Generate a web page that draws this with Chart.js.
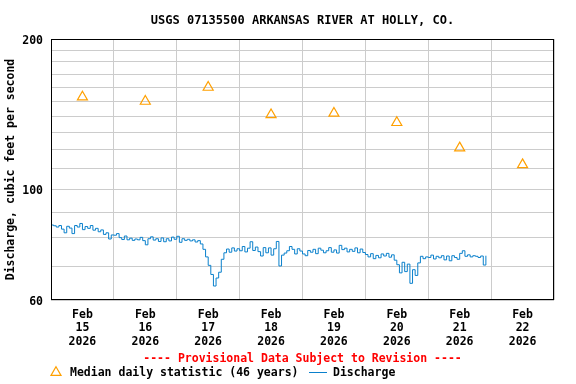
<!DOCTYPE html>
<html>
<head>
<meta charset="utf-8">
<script src="https://cdn.jsdelivr.net/npm/chart.js@4"></script>
<style>
  html, body { margin: 0; padding: 0; background: #fff; }
  #wrap { width: 576px; height: 384px; }
</style>
</head>
<body>
<div id="wrap"><canvas id="hydro" width="576" height="384"></canvas></div>
<script>
'use strict';

/* ── Data ──────────────────────────────────────────────────── */
const TITLE = 'USGS 07135500 ARKANSAS RIVER AT HOLLY, CO.';

// x axis: hours since Feb 15 00:00; gridlines at midnight, labels at noon
const dayLabels = [
  ['Feb', '15', '2026'], ['Feb', '16', '2026'], ['Feb', '17', '2026'], ['Feb', '18', '2026'],
  ['Feb', '19', '2026'], ['Feb', '20', '2026'], ['Feb', '21', '2026'], ['Feb', '22', '2026'],
];

// y axis (log): gridlines and the few values that get a label
const yGridValues  = [60, 70, 80, 90, 100, 110, 120, 130, 140, 150, 160, 170, 180, 190, 200];
const yLabelValues = [60, 100, 200];

// Median daily statistic (46 years), one per day, plotted at noon
const medianCfs = [153, 150, 160, 141, 142, 136, 121, 112];

// Discharge, hourly readings (cfs)
const feb15 = [84.8, 84.5, 84.0, 84.6, 83.2, 81.8, 84.3, 83.6, 81.5, 84.6, 84.0, 85.4,
               83.0, 84.2, 83.5, 84.6, 82.8, 83.5, 82.2, 82.9, 81.2, 81.8, 79.5, 81.0];
const feb16 = [80.9, 81.5, 80.0, 79.3, 80.6, 79.2, 79.8, 79.0, 79.5, 79.2, 80.1, 78.9,
               77.4, 79.6, 80.3, 79.1, 79.6, 78.6, 79.9, 78.5, 79.6, 78.8, 80.2, 79.4];
const feb17 = [80.5, 78.3, 79.6, 79.0, 79.4, 78.8, 79.2, 78.4, 78.9, 77.7, 75.8, 73.2,
               70.4, 67.5, 64.0, 66.4, 68.2, 72.4, 74.6, 75.9, 74.8, 76.3, 75.2, 76.0];
const feb18 = [75.3, 76.8, 74.9, 76.2, 78.5, 75.4, 76.6, 75.0, 73.5, 76.4, 74.6, 76.3,
               73.8, 76.0, 78.6, 70.2, 73.8, 74.5, 75.3, 76.8, 75.8, 74.2, 76.0, 75.2];
const feb19 = [74.2, 73.6, 75.4, 74.8, 75.8, 74.3, 76.2, 75.5, 74.6, 75.3, 76.4, 74.8,
               75.6, 74.5, 77.2, 75.7, 76.2, 74.9, 75.8, 75.1, 76.3, 74.6, 75.9, 74.7];
const feb20 = [74.0, 73.2, 74.3, 72.6, 73.7, 72.9, 74.2, 73.5, 74.4, 73.1, 73.9, 72.1,
               70.6, 68.0, 71.4, 68.4, 70.8, 64.8, 69.0, 67.2, 71.2, 73.4, 72.6, 73.2];
const feb21 = [73.0, 73.8, 72.5, 73.4, 72.9, 73.6, 72.2, 73.5, 71.9, 73.6, 73.0, 72.4,
               74.4, 75.3, 73.4, 73.9, 73.2, 73.6, 73.4, 73.0, 73.5, 70.5, 73.6];

const dischargeCfs = [].concat(feb15, feb16, feb17, feb18, feb19, feb20, feb21);

/* ── Styling ───────────────────────────────────────────────── */
const MONO   = '"DejaVu Sans Mono", "Liberation Mono", monospace';
const ORANGE = '#ffa000';
const BLUE   = '#0a80cc';
const GRID   = '#cccccc';

Chart.defaults.font.family = MONO;
Chart.defaults.font.weight = 'bold';
Chart.defaults.font.size   = 11.5;
Chart.defaults.color       = '#000';

// Black box round the plot area
const framePlugin = {
  id: 'frame',
  afterDatasetsDraw(ch) {
    const a = ch.chartArea;
    const c = ch.ctx;
    c.save();
    c.strokeStyle = '#000';
    c.lineWidth = 1;
    c.strokeRect(Math.round(a.left) + 0.5, Math.round(a.top) + 0.5,
                 Math.round(a.right - a.left) - 1, Math.round(a.bottom - a.top) - 1);
    c.restore();
  }
};

// Provisional-data note + the USGS style legend under the x labels
const footerPlugin = {
  id: 'footer',
  afterDraw(ch) {
    const c = ch.ctx;
    const a = ch.chartArea;
    c.save();
    c.font = `bold 11.5px ${MONO}`;
    c.textBaseline = 'middle';

    c.fillStyle = '#ff0000';
    c.textAlign = 'center';
    c.fillText('---- Provisional Data Subject to Revision ----', (a.left + a.right) / 2, 359.5);

    // hollow triangle, same glyph as the median markers
    c.fillStyle = 'rgba(0,0,0,0)';
    c.strokeStyle = ORANGE;
    c.lineWidth = 1.2;
    Chart.helpers.drawPoint(c, { pointStyle: 'triangle', radius: 5.8, borderWidth: 1.2 }, 56, 372.5);

    c.fillStyle = '#000';
    c.textAlign = 'left';
    c.fillText(ch.data.datasets[1].label, 70, 373);

    c.strokeStyle = BLUE;
    c.lineWidth = 1;
    c.beginPath();
    c.moveTo(309, 372.5);
    c.lineTo(327, 372.5);
    c.stroke();

    c.fillText(ch.data.datasets[0].label, 333, 373);
    c.restore();
  }
};

new Chart(document.getElementById('hydro'), {
  type: 'line',
  data: {
    datasets: [
      {
        label: 'Discharge',
        data: dischargeCfs.map((v, h) => ({ x: h, y: v })),
        borderColor: BLUE,
        borderWidth: 1,
        pointRadius: 0,
        stepped: true,
        fill: false,
        order: 2,
      },
      {
        label: 'Median daily statistic (46 years)',
        data: medianCfs.map((v, d) => ({ x: 12 + 24 * d, y: v })),
        showLine: false,
        pointStyle: 'triangle',
        pointRadius: 5.8,
        pointBorderWidth: 1.2,
        pointBorderColor: ORANGE,
        pointBackgroundColor: 'rgba(0,0,0,0)',
        order: 1,
      }
    ]
  },
  plugins: [framePlugin, footerPlugin],
  options: {
    responsive: false,
    animation: false,
    devicePixelRatio: 1,
    layout: { padding: { left: 0, right: 22, top: 0, bottom: 36 } },
    plugins: {
      legend: { display: false },
      tooltip: { enabled: false },
      title: {
        display: true,
        text: TITLE,
        fullSize: false,
        color: '#000',
        font: { size: 12, weight: 'bold', family: MONO, lineHeight: 1.2 },
        padding: { top: 14, bottom: 10.6 },
      }
    },
    scales: {
      x: {
        type: 'linear',
        min: 0,
        max: dayLabels.length * 24,
        afterBuildTicks: s => {
          const t = [];
          for (let h = 0; h <= dayLabels.length * 24; h += 12) t.push({ value: h });
          s.ticks = t;
        },
        afterFit: s => { s.height = 48; },
        grid: {
          drawTicks: false,
          color: c => (c.tick && c.tick.value % 24 === 0) ? GRID : 'rgba(0,0,0,0)',
        },
        border: { display: false },
        ticks: {
          autoSkip: false,
          maxRotation: 0,
          padding: 8,
          font: { size: 11.5, weight: 'bold', lineHeight: 1.18 },
          callback: v => (v % 24 === 12) ? dayLabels[(v - 12) / 24] : '',
        }
      },
      y: {
        type: 'logarithmic',
        min: yGridValues[0],
        max: yGridValues[yGridValues.length - 1],
        afterBuildTicks: s => { s.ticks = yGridValues.map(v => ({ value: v })); },
        afterFit: s => { s.width = 51; },
        grid: { drawTicks: false, color: GRID },
        border: { display: false },
        ticks: {
          autoSkip: false,
          padding: 8,
          labelOffset: 2,
          callback: v => yLabelValues.includes(v) ? String(v) : '',
        },
        title: {
          display: true,
          text: 'Discharge, cubic feet per second',
          padding: { top: 4, bottom: 0 },
          font: { size: 11.5, weight: 'bold', lineHeight: 1.2 },
        }
      }
    }
  }
});
</script>
</body>
</html>
